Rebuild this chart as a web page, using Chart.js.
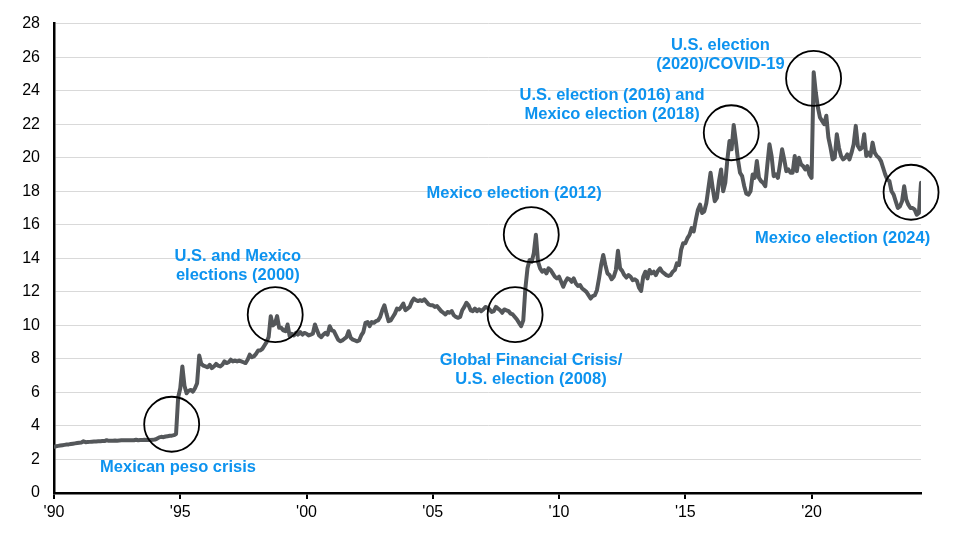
<!DOCTYPE html>
<html>
<head>
<meta charset="utf-8">
<script src="https://cdn.jsdelivr.net/npm/chart.js@4/dist/chart.umd.min.js"></script>
<style>
html,body{margin:0;padding:0;background:#ffffff;}
#wrap{width:972px;height:537px;position:relative;}
</style>
</head>
<body>
<div id="wrap"><canvas id="c" width="972" height="537"></canvas></div>
<script>
// USD/MXN, monthly samples, starting at the '90 tick
const startYear = 1990;
const rates = [
  // 1990
  2.76, 2.79, 2.81, 2.83, 2.85, 2.87, 2.89, 2.90, 2.92, 2.94, 2.96, 2.98,
  // 1991
  3.00, 3.01, 3.08, 3.03, 3.04, 3.05, 3.06, 3.07, 3.07, 3.08, 3.09, 3.10,
  // 1992
  3.10, 3.15, 3.11, 3.12, 3.12, 3.13, 3.12, 3.13, 3.14, 3.14, 3.15, 3.15,
  // 1993
  3.15, 3.14, 3.15, 3.18, 3.15, 3.16, 3.16, 3.17, 3.16, 3.17, 3.16, 3.17,
  // 1994
  3.19, 3.24, 3.32, 3.35, 3.33, 3.37, 3.39, 3.41, 3.42, 3.45, 3.52, 5.70,
  // 1995
  6.25, 7.55, 6.40, 5.95, 6.10, 6.15, 6.05, 6.25, 6.55, 8.20, 7.70, 7.60,
  // 1996
  7.55, 7.50, 7.65, 7.45, 7.55, 7.70, 7.60, 7.55, 7.65, 7.85, 7.75, 7.80,
  // 1997
  7.95, 7.85, 7.90, 7.85, 7.90, 7.85, 7.80, 7.75, 7.95, 8.25, 8.10, 8.15,
  // 1998
  8.30, 8.50, 8.50, 8.60, 8.80, 9.00, 9.30, 10.55, 10.00, 10.10, 10.55, 9.85,
  // 1999
  9.85, 9.70, 9.65, 10.05, 9.35, 9.50, 9.40, 9.55, 9.45, 9.60, 9.45, 9.55,
  // 2000
  9.50, 9.40, 9.45, 9.50, 10.05, 9.70, 9.40, 9.30, 9.45, 9.55, 9.45, 9.95,
  // 2001
  9.70, 9.65, 9.40, 9.15, 9.05, 9.10, 9.20, 9.30, 9.65, 9.25, 9.15, 9.10,
  // 2002
  9.05, 9.10, 9.40, 9.60, 10.15, 10.20, 9.95, 10.20, 10.15, 10.25, 10.30, 10.50,
  // 2003
  10.90, 11.20, 10.70, 10.25, 10.30, 10.50, 10.70, 11.00, 10.95, 11.10, 11.30, 10.90,
  // 2004
  11.00, 11.10, 11.40, 11.60, 11.50, 11.45, 11.50, 11.45, 11.55, 11.40, 11.25, 11.20,
  // 2005
  11.20, 11.10, 11.15, 11.00, 10.85, 10.75, 10.65, 10.80, 10.75, 10.85, 10.60, 10.50,
  // 2006
  10.45, 10.50, 10.90, 11.10, 11.35, 11.20, 10.90, 10.85, 11.00, 10.85, 10.95, 10.85,
  // 2007
  10.95, 11.10, 11.05, 10.95, 10.80, 10.85, 11.10, 11.00, 10.90, 10.75, 10.95, 10.90,
  // 2008
  10.85, 10.70, 10.65, 10.50, 10.35, 10.15, 9.95, 10.30, 12.20, 13.40, 13.90, 13.80,
  // 2009
  14.30, 15.40, 13.80, 13.40, 13.20, 13.30, 13.10, 13.40, 13.30, 13.10, 12.90, 12.80,
  // 2010
  12.90, 12.60, 12.30, 12.60, 12.80, 12.75, 12.60, 12.80, 12.50, 12.35, 12.40, 12.20,
  // 2011
  12.10, 12.00, 11.80, 11.60, 11.75, 11.80, 12.10, 12.80, 13.60, 14.20, 13.60, 13.10,
  // 2012
  13.00, 12.75, 12.90, 13.30, 14.45, 13.40, 13.25, 13.00, 12.85, 13.00, 12.90, 12.70,
  // 2013
  12.75, 12.65, 12.25, 12.05, 12.90, 13.20, 12.80, 13.30, 13.10, 13.20, 13.00, 13.25,
  // 2014
  13.40, 13.20, 13.10, 13.00, 12.95, 13.00, 13.20, 13.30, 13.70, 13.60, 14.50, 14.90,
  // 2015
  14.90, 15.20, 15.40, 15.80, 15.60, 16.30, 16.90, 17.20, 16.70, 16.80, 17.30, 18.20,
  // 2016
  19.10, 18.20, 17.40, 17.60, 18.60, 19.30, 18.00, 18.50, 19.90, 21.00, 20.50, 21.95,
  // 2017
  21.00, 19.90, 19.10, 18.90, 18.30, 17.85, 17.80, 18.00, 19.00, 18.80, 19.80, 18.80,
  // 2018
  18.60, 18.50, 18.30, 19.60, 20.80, 20.10, 18.90, 19.00, 18.80, 19.60, 20.50, 19.90,
  // 2019
  19.20, 19.30, 19.10, 19.10, 20.10, 19.20, 20.00, 19.60, 19.50, 19.30, 19.50, 19.00,
  // 2020
  18.80, 25.10, 23.90, 23.00, 22.40, 22.20, 22.00, 22.50, 21.20, 20.60, 19.90, 20.00,
  // 2021
  21.40, 20.60, 20.10, 19.90, 20.00, 20.20, 19.90, 20.30, 20.80, 21.90, 20.70, 20.50,
  // 2022
  20.60, 21.40, 20.10, 20.30, 20.10, 20.90, 20.30, 20.10, 20.00, 19.80, 19.40, 19.00,
  // 2023
  18.70, 18.60, 18.00, 17.80, 17.40, 17.00, 17.10, 17.40, 18.30, 17.50, 17.20, 17.00,
  // 2024
  17.00, 16.90, 16.60, 16.70, 18.50
];

const xTickYears  = [1990, 1995, 2000, 2005, 2010, 2015, 2020];
const xTickLabels = ["'90", "'95", "'00", "'05", "'10", "'15", "'20"];
const yMin = 0, yMax = 28, yStep = 2;

// Annotated events: circle centre (year, rate) and label anchor (year, rate)
const eventTexts = [
  ["Mexican peso crisis"],
  ["U.S. and Mexico", "elections (2000)"],
  ["Global Financial Crisis/", "U.S. election (2008)"],
  ["Mexico election (2012)"],
  ["U.S. election (2016) and", "Mexico election (2018)"],
  ["U.S. election", "(2020)/COVID-19"],
  ["Mexico election (2024)"]
];
const circleYears = [1994.66, 1998.76, 2008.26, 2008.90, 2016.82, 2020.08, 2023.94];
const circleRates = [4.10, 10.64, 10.64, 15.41, 21.49, 24.73, 17.94];
const labelYears  = [1994.91, 1997.28, 2008.89, 2008.22, 2012.10, 2016.39, 2021.23];
const labelRates  = [1.54, 14.13, 7.93, 17.84, 23.74, 26.72, 15.17];

const points = rates.map((v, i) => ({ x: startYear + i / 12, y: v }));

const annotationPlugin = {
  id: 'events',
  afterDatasetsDraw(chart) {
    const ctx = chart.ctx, xs = chart.scales.x, ys = chart.scales.y;
    ctx.save();
    ctx.strokeStyle = '#000000';
    ctx.lineWidth = 1.8;
    for (let i = 0; i < circleYears.length; i++) {
      ctx.beginPath();
      ctx.arc(xs.getPixelForValue(circleYears[i]), ys.getPixelForValue(circleRates[i]), 27.5, 0, Math.PI * 2);
      ctx.stroke();
    }
    ctx.fillStyle = '#0d93ef';
    ctx.font = 'bold 16.5px "Liberation Sans", Arial, sans-serif';
    ctx.textAlign = 'center';
    ctx.textBaseline = 'middle';
    for (let i = 0; i < eventTexts.length; i++) {
      const cx = xs.getPixelForValue(labelYears[i]);
      const cy = ys.getPixelForValue(labelRates[i]);
      eventTexts[i].forEach((line, k) => ctx.fillText(line, cx, cy + k * 19));
    }
    ctx.restore();
  }
};

new Chart(document.getElementById('c'), {
  type: 'line',
  data: {
    datasets: [{
      data: points,
      borderColor: '#54575a',
      borderWidth: 4,
      pointRadius: 0,
      tension: 0,
      fill: false,
      borderJoinStyle: 'round',
      borderCapStyle: 'round'
    }]
  },
  options: {
    responsive: false,
    animation: false,
    parsing: false,
    layout: { padding: { top: 20, right: 51, left: 0, bottom: 0 } },
    plugins: { legend: { display: false }, tooltip: { enabled: false } },
    scales: {
      x: {
        type: 'linear',
        min: startYear,
        max: startYear + (rates.length - 1) / 12,
        afterBuildTicks: (s) => { s.ticks = xTickYears.map(v => ({ value: v })); },
        afterFit: (s) => { s.height = 44; },
        ticks: {
          callback: (v, i) => xTickLabels[i],
          color: '#000000',
          font: { family: '"Liberation Sans", Arial, sans-serif', size: 16 },
          maxRotation: 0,
          autoSkip: false,
          padding: 4
        },
        grid: { drawOnChartArea: false, drawTicks: true, tickLength: 6, color: '#000000', lineWidth: 2 },
        border: { color: '#000000', width: 2.5 }
      },
      y: {
        min: yMin,
        max: yMax,
        afterFit: (s) => { s.width = 54; },
        ticks: {
          stepSize: yStep,
          color: '#000000',
          font: { family: '"Liberation Sans", Arial, sans-serif', size: 16 },
          padding: 14
        },
        grid: { color: '#d9d9d9', lineWidth: 1, drawTicks: false },
        border: { color: '#000000', width: 2.5 }
      }
    }
  },
  plugins: [annotationPlugin]
});
</script>
</body>
</html>
